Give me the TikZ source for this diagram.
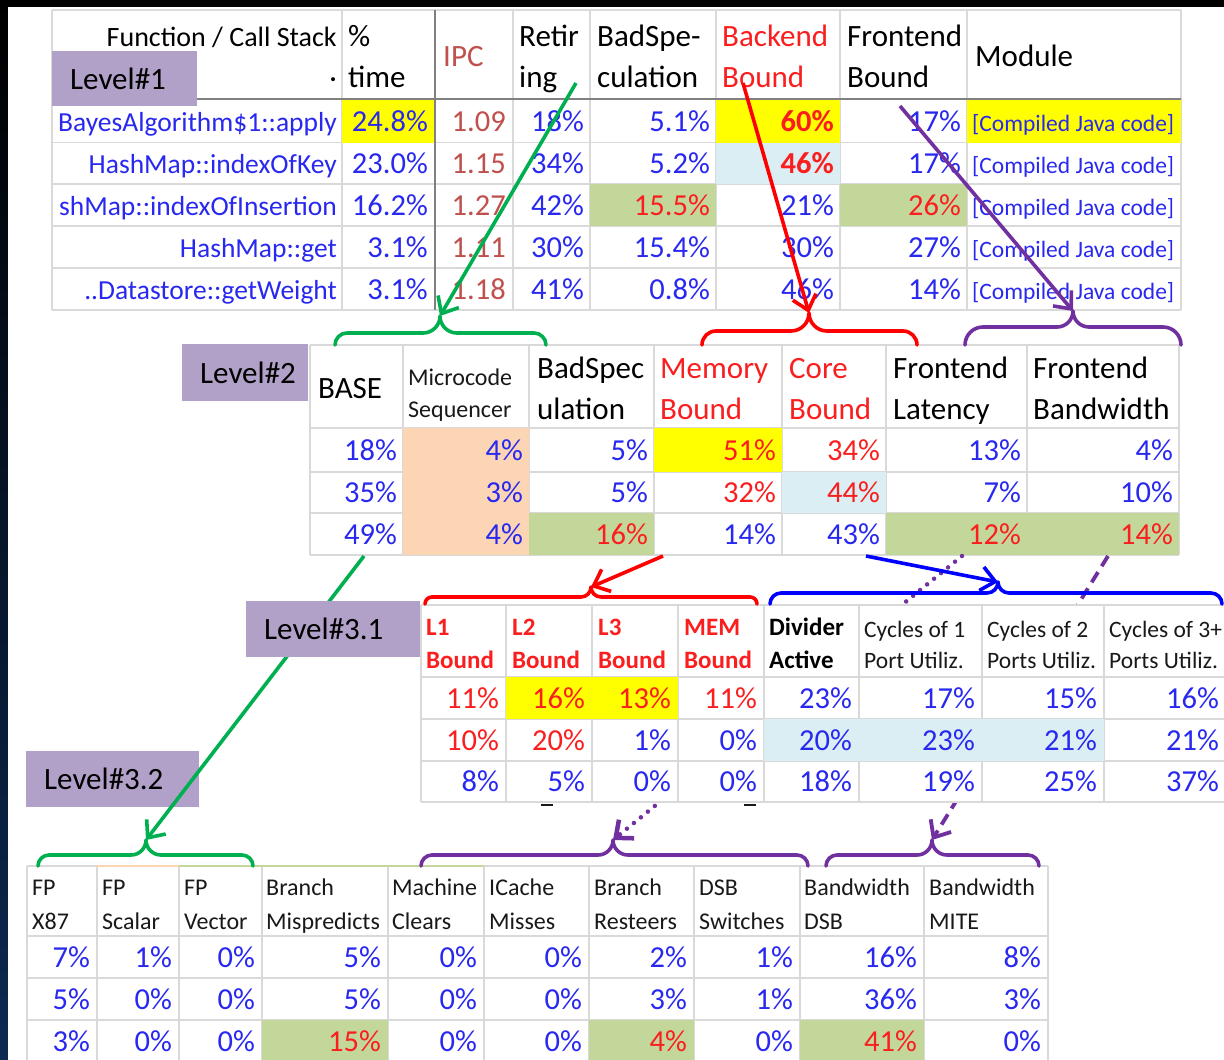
\documentclass[tikz,border=0pt]{standalone}
\usepackage{fontspec}
\setmainfont{Carlito}
\usetikzlibrary{arrows.meta}

\definecolor{tblue}{RGB}{40,40,240}
\definecolor{tred}{RGB}{250,30,30}
\definecolor{tipc}{RGB}{192,80,77}
\definecolor{hdr}{RGB}{25,25,25}
\definecolor{cyel}{RGB}{255,255,0}
\definecolor{cblu}{RGB}{218,238,243}
\definecolor{cgrn}{RGB}{196,215,155}
\definecolor{cpch}{RGB}{252,213,180}
\definecolor{lvl}{RGB}{177,160,199}
\definecolor{gridc}{RGB}{217,217,217}
\definecolor{griddk}{RGB}{128,128,128}
\definecolor{agrn}{RGB}{0,176,80}
\definecolor{ared}{RGB}{255,0,0}
\definecolor{apur}{RGB}{112,48,160}
\definecolor{ablu}{RGB}{0,0,255}
\definecolor{navy}{RGB}{12,42,82}

\newcommand\fsz[1]{\fontsize{#1}{#1}\selectfont}
\newcommand\vrow[3]{\foreach \vX/\vC/\vT [count=\vI] in {#3}{\node[val,text=\vC] (#1-\vI) at (\vX,#2) {\vT};}}
\newcommand\bracepath[6]{(#1,#4) to[out=90,in=180] ({#1+#4-#5},#5) -- ({#3-#5+#6},#5) to[out=0,in=-90] (#3,#6) to[out=-90,in=180] ({#3+#5-#6},#5) -- ({#2-#4+#5},#5) to[out=0,in=90] (#2,#4)}

\tikzset{
  gridl/.style={draw=gridc, line width=1.8pt},
  gridd/.style={draw=griddk, line width=2pt},
  val/.style={inner sep=0pt, anchor=base east, font=\fsz{30.5}},
  fn/.style={inner sep=0pt, anchor=base east, font=\fsz{27.5}, text=tblue},
  mod/.style={inner sep=0pt, anchor=base west, font=\fsz{23.5}, text=tblue},
  hd/.style={inner sep=0pt, anchor=base west, font=\fsz{31}, text=black},
  hdb/.style={inner sep=0pt, anchor=base west, font=\bfseries\fsz{25}},
  hds/.style={inner sep=0pt, anchor=base west, font=\fsz{23.5}, text=hdr},
  hdt/.style={inner sep=0pt, anchor=base west, font=\fsz{24}, text=hdr},
  lvlbox/.style={fill=lvl, anchor=north west, inner xsep=18pt, inner ysep=0pt, align=left, font=\fsz{31}, text=black},
  brace/.style={line width=3.6pt, line cap=round, line join=round},
  arr/.style={line width=3.6pt, -{Straight Barb[length=14pt,width=24pt]}},
  dotline/.style={line width=4.5pt, line cap=round, dash pattern=on 0pt off 9pt},
  dashline/.style={line width=3.8pt, dash pattern=on 12pt off 7pt}
}

\begin{document}
\begin{tikzpicture}[x=1pt,y=-1pt]
\useasboundingbox (0,0) rectangle (1224,1060);
% background frame
\fill[black] (0,0) rectangle (1224,1060);
\shade[top color=black, bottom color=navy] (0,0) rectangle (8,1060);
\fill[white] (8,7) rectangle (1224,1060);

% ================= Level 1 table =================
\foreach \x in {52,342,513,590,716,840,967,1181} \draw[gridl] (\x,10) -- (\x,310);
\foreach \y in {10,142.5,184,226,268,310} \draw[gridl] (52,\y) -- (1181,\y);
\fill[cyel] (342,99) rectangle (435,142.5);
\fill[cyel] (716,99) rectangle (840,142.5);
\fill[cyel] (967,99) rectangle (1181,142.5);
\fill[cblu] (716,142.5) rectangle (840,184);
\fill[cgrn] (590,184) rectangle (716,226);
\fill[cgrn] (840,184) rectangle (967,226);
\draw[gridd] (435,10) -- (435,310);
\draw[gridd] (52,99) -- (1181,99);

\node[hd,font=\fsz{28},anchor=base east] (fcs) at (337,46) {Function / Call Stack};
\node[hd,font=\fsz{28},anchor=base east] (fdot) at (337,87) {·};
\node[hd] (hpt-a) at (348,46) {\%};
\node[hd] (hpt-b) at (348,87) {time};
\node[hd,text=tipc] (hipc) at (443,66) {IPC};
\node[hd] (hret-a) at (519,46) {Retir};
\node[hd] (hret-b) at (519,87) {ing};
\node[hd] (hbs-a) at (597,46) {BadSpe-};
\node[hd] (hbs-b) at (597,87) {culation};
\node[hd,text=tred] (hbe-a) at (722,46) {Backend};
\node[hd,text=tred] (hbe-b) at (722,87) {Bound};
\node[hd] (hfe-a) at (847,46) {Frontend};
\node[hd] (hfe-b) at (847,87) {Bound};
\node[hd] (hmod) at (975,66) {Module};

\node[fn] (fn1) at (337,131) {BayesAlgorithm\$1::apply};
\node[fn] (fn2) at (337,173) {HashMap::indexOfKey};
\node[fn] (fn3) at (337,215) {shMap::indexOfInsertion};
\node[fn] (fn4) at (337,257) {HashMap::get};
\node[fn] (fn5) at (337,299) {..Datastore::getWeight};

\vrow{A1}{131}{428/tblue/24.8\%, 506/tipc/1.09, 584/tblue/18\%, 710/tblue/5.1\%, 834/tred/\textbf{60\%}, 961/tblue/17\%}
\vrow{A2}{173}{428/tblue/23.0\%, 506/tipc/1.15, 584/tblue/34\%, 710/tblue/5.2\%, 834/tred/\textbf{46\%}, 961/tblue/17\%}
\vrow{A3}{215}{428/tblue/16.2\%, 506/tipc/1.27, 584/tblue/42\%, 710/tred/15.5\%, 834/tblue/21\%, 961/tred/26\%}
\vrow{A4}{257}{428/tblue/3.1\%, 506/tipc/1.11, 584/tblue/30\%, 710/tblue/15.4\%, 834/tblue/30\%, 961/tblue/27\%}
\vrow{A5}{299}{428/tblue/3.1\%, 506/tipc/1.18, 584/tblue/41\%, 710/tblue/0.8\%, 834/tblue/46\%, 961/tblue/14\%}
\foreach \yy [count=\i] in {131,173,215,257,299} \node[mod] (mod\i) at (972,\yy) {[Compiled Java code]};

\node[lvlbox, minimum width=145pt, minimum height=55pt, text width=109pt] (lv1) at (52,51) {Level\#1};

% ================= Level 2 table =================
\foreach \x in {310,403,529,654,782,886,1027,1179} \draw[gridl] (\x,345) -- (\x,555);
\foreach \y in {345,428,472,513,555} \draw[gridl] (310,\y) -- (1179,\y);
\fill[cpch] (403,428) rectangle (529,555);
\fill[cyel] (654,428) rectangle (782,472);
\fill[cblu] (782,472) rectangle (886,513);
\fill[cgrn] (529,513) rectangle (654,555);
\fill[cgrn] (886,513) rectangle (1179,555);

\node[hd] (b2base) at (318,398) {BASE};
\node[hd,font=\fsz{24},text=hdr] (b2mc-a) at (408,385) {Microcode};
\node[hd,font=\fsz{24},text=hdr] (b2mc-b) at (408,417) {Sequencer};
\foreach \hX/\hC/\hA/\hB [count=\hI] in {537/black/BadSpec/ulation, 660/tred/Memory/Bound, 789/tred/Core/Bound, 893/black/Frontend/Latency, 1033/black/Frontend/Bandwidth}
  {\node[hd,text=\hC] (b2h\hI-a) at (\hX,378) {\hA};
   \node[hd,text=\hC] (b2h\hI-b) at (\hX,419) {\hB};}

\vrow{B1}{460}{397/tblue/18\%, 523/tblue/4\%, 648/tblue/5\%, 776/tred/51\%, 880/tred/34\%, 1021/tblue/13\%, 1173/tblue/4\%}
\vrow{B2}{502}{397/tblue/35\%, 523/tblue/3\%, 648/tblue/5\%, 776/tred/32\%, 880/tred/44\%, 1021/tblue/7\%, 1173/tblue/10\%}
\vrow{B3}{544}{397/tblue/49\%, 523/tblue/4\%, 648/tred/16\%, 776/tblue/14\%, 880/tblue/43\%, 1021/tred/12\%, 1173/tred/14\%}

\node[lvlbox, minimum width=126pt, minimum height=57pt, text width=90pt] (lv2) at (182,344) {Level\#2};

% ================= Level 3.2 label (under the green line) =================
\node[lvlbox, minimum width=173pt, minimum height=56pt, text width=137pt] (lv32) at (26,751) {Level\#3.2};

% connector coordinates
\coordinate (sG1) at (576,83);  \coordinate (tG2) at (440,316);
\coordinate (sR1) at (743,83);  \coordinate (tR2) at (809,313);
\coordinate (sP1) at (900,106); \coordinate (tP2) at (1073,311);
\coordinate (sG2) at (364,556); \coordinate (tG4) at (146,840);
\coordinate (sR2) at (663,556); \coordinate (tR3) at (591,587);
\coordinate (sB2) at (866,556); \coordinate (tB3) at (998,582);
\coordinate (sP2) at (962,556); \coordinate (tP4a) at (613,840);
\coordinate (sP3) at (1108,556); \coordinate (tP4b) at (932,840);

% lines passing behind level 3.1 table / box
\draw[arr,agrn] (sG2) -- (tG4);
\draw[arr,apur,dotline] (sP2) -- (tP4a);
\draw[arr,apur,dashline] (sP3) -- (tP4b);

% ================= Level 3.1 table =================
\fill[white] (421,605) rectangle (1224,802);
\foreach \x in {421,506,592,678,764,859,982,1104} \draw[gridl] (\x,605) -- (\x,802);
\foreach \y in {605,677,719,761,802} \draw[gridl] (421,\y) -- (1224,\y);
\fill[cyel] (506,677) rectangle (678,719);
\fill[cblu] (764,719) rectangle (1104,761);

\foreach \hX/\hA [count=\hI] in {426/L1, 512/L2, 598/L3, 684/MEM}
  {\node[hdb,text=tred] (c3h\hI-a) at (\hX,635) {\hA};
   \node[hdb,text=tred] (c3h\hI-b) at (\hX,668) {Bound};}
\node[hdb,text=black] (c3div-a) at (769,635) {Divider};
\node[hdb,text=black] (c3div-b) at (769,668) {Active};
\node[hds] (c3c1-a) at (864,637) {Cycles of 1};
\node[hds] (c3c1-b) at (864,668) {Port Utiliz.};
\node[hds] (c3c2-a) at (987,637) {Cycles of 2};
\node[hds] (c3c2-b) at (987,668) {Ports Utiliz.};
\node[hds] (c3c3-a) at (1109,637) {Cycles of 3+};
\node[hds] (c3c3-b) at (1109,668) {Ports Utiliz.};

\vrow{C1}{708}{499/tred/11\%, 585/tred/16\%, 671/tred/13\%, 757/tred/11\%, 852/tblue/23\%, 975/tblue/17\%, 1097/tblue/15\%, 1219/tblue/16\%}
\vrow{C2}{750}{499/tred/10\%, 585/tred/20\%, 671/tblue/1\%, 757/tblue/0\%, 852/tblue/20\%, 975/tblue/23\%, 1097/tblue/21\%, 1219/tblue/21\%}
\vrow{C3}{791}{499/tblue/8\%, 585/tblue/5\%, 671/tblue/0\%, 757/tblue/0\%, 852/tblue/18\%, 975/tblue/19\%, 1097/tblue/25\%, 1219/tblue/37\%}
\draw[hdr,line width=1.5pt] (541,805) -- (553,805);
\draw[hdr,line width=1.5pt] (744,805) -- (756,805);

\node[lvlbox, minimum width=174pt, minimum height=56pt, text width=138pt] (lv31) at (246,601) {Level\#3.1};

% ================= Level 3.2 table =================
\foreach \x in {27,97,179,262,388,484,589,694,800,924,1048} \draw[gridl] (\x,866) -- (\x,1060);
\foreach \y in {866,936,978,1020} \draw[gridl] (27,\y) -- (1048,\y);
\draw[draw=cpch,line width=1.8pt] (97,866) -- (179,866);
\draw[draw=cgrn,line width=1.8pt] (179,866) -- (484,866);
\fill[cgrn] (262,1020) rectangle (388,1060);
\fill[cgrn] (589,1020) rectangle (694,1060);
\fill[cgrn] (800,1020) rectangle (924,1060);

\foreach \hX/\hA/\hB [count=\hI] in {32/FP/X87, 102/FP/Scalar, 184/FP/Vector, 266/Branch/Mispredicts, 392/Machine/Clears, 489/ICache/Misses, 594/Branch/Resteers, 699/DSB/Switches, 804/Bandwidth/DSB, 929/Bandwidth/MITE}
  {\node[hdt] (d4h\hI-a) at (\hX,895) {\hA};
   \node[hdt] (d4h\hI-b) at (\hX,929) {\hB};}

\vrow{D1}{967}{90/tblue/7\%, 172/tblue/1\%, 255/tblue/0\%, 381/tblue/5\%, 477/tblue/0\%, 582/tblue/0\%, 687/tblue/2\%, 793/tblue/1\%, 917/tblue/16\%, 1041/tblue/8\%}
\vrow{D2}{1009}{90/tblue/5\%, 172/tblue/0\%, 255/tblue/0\%, 381/tblue/5\%, 477/tblue/0\%, 582/tblue/0\%, 687/tblue/3\%, 793/tblue/1\%, 917/tblue/36\%, 1041/tblue/3\%}
\vrow{D3}{1051}{90/tblue/3\%, 172/tblue/0\%, 255/tblue/0\%, 381/tred/15\%, 477/tblue/0\%, 582/tblue/0\%, 687/tred/4\%, 793/tblue/0\%, 917/tred/41\%, 1041/tblue/0\%}

% ================= braces =================
\draw[brace,agrn] \bracepath{335}{546}{440}{345}{333}{316};
\draw[brace,ared] \bracepath{702}{917}{809}{345}{331}{313};
\draw[brace,apur] \bracepath{965}{1181}{1073}{345}{327}{311};
\draw[brace,ared] \bracepath{425}{757}{591}{604}{597}{587};
\draw[brace,ablu] \bracepath{770}{1222}{998}{604}{593}{582};
\draw[brace,agrn] \bracepath{38}{253}{146}{866}{855}{840};
\draw[brace,apur] \bracepath{421}{808}{613}{866}{855}{840};
\draw[brace,apur] \bracepath{826}{1039}{932}{866}{855}{840};

% ================= arrows =================
\draw[arr,agrn] (sG1) -- (tG2);
\draw[arr,ared] (sR1) -- (tR2);
\draw[arr,apur] (sP1) -- (tP2);
\draw[arr,ared] (sR2) -- (tR3);
\draw[arr,ablu] (sB2) -- (tB3);
\end{tikzpicture}
\end{document}
